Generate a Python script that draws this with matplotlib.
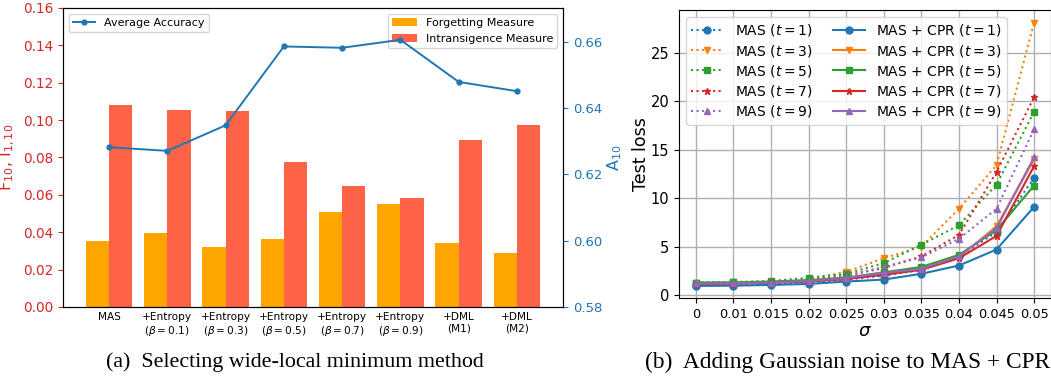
import numpy as np
import matplotlib
matplotlib.use('Agg')
import matplotlib.pyplot as plt

# left panel data
methods = ['MAS', '+Entropy\n($\\beta = 0.1$)', '+Entropy\n($\\beta = 0.3$)', '+Entropy\n($\\beta = 0.5$)',
           '+Entropy\n($\\beta = 0.7$)', '+Entropy\n($\\beta = 0.9$)', '+DML\n(M1)', '+DML\n(M2)']
forgetting = [0.0353, 0.0396, 0.0321, 0.0364, 0.0508, 0.0551, 0.0344, 0.0290]
intransigence = [0.1081, 0.1056, 0.1049, 0.0776, 0.0647, 0.0583, 0.0893, 0.0974]
avg_accuracy = [0.6282, 0.6271, 0.6348, 0.6586, 0.6582, 0.6606, 0.6479, 0.6451]

# right panel data
sigmas = ['0', '0.01', '0.015', '0.02', '0.025', '0.03', '0.035', '0.04', '0.045', '0.05']
tasks = [1, 3, 5, 7, 9]
mas_loss = [
    [1.00, 1.02, 1.10, 1.30, 1.60, 2.00, 2.60, 4.00, 6.50, 12.1],
    [1.10, 1.15, 1.30, 1.60, 2.40, 3.80, 5.00, 8.90, 13.4, 28.1],
    [1.30, 1.35, 1.45, 1.80, 2.20, 3.30, 5.20, 7.20, 11.4, 18.9],
    [1.15, 1.20, 1.30, 1.55, 2.00, 2.80, 4.00, 6.20, 12.7, 20.4],
    [1.10, 1.15, 1.25, 1.50, 2.00, 2.90, 3.90, 5.80, 8.90, 17.1],
]
cpr_loss = [
    [0.95, 0.97, 1.05, 1.15, 1.40, 1.60, 2.20, 3.05, 4.70, 9.1],
    [1.20, 1.22, 1.30, 1.45, 1.70, 2.20, 2.70, 3.90, 7.10, 14.0],
    [1.30, 1.32, 1.40, 1.55, 1.80, 2.35, 2.90, 4.15, 6.70, 11.3],
    [1.15, 1.18, 1.28, 1.40, 1.65, 2.10, 2.60, 3.80, 6.10, 13.3],
    [1.20, 1.22, 1.30, 1.45, 1.75, 2.30, 2.70, 4.00, 6.90, 14.2],
]
markers = ['o', 'v', 's', '*', '^']
colors = ['tab:blue', 'tab:orange', 'tab:green', 'tab:red', 'tab:purple']

fig = plt.figure(figsize=(10.51, 3.77), dpi=100)

# (a) bars + accuracy line
ax1 = fig.add_axes([0.0599, 0.1857, 0.4758, 0.7931])
x = np.arange(len(methods))
w = 0.4
ax1.bar(x - w / 2, forgetting, w, color='orange', label='Forgetting Measure')
ax1.bar(x + w / 2, intransigence, w, color='tomato', label='Intransigence Measure')
ax1.set_ylim(0, 0.16)
ticks_l = np.arange(0, 0.161, 0.02)
ax1.set_yticks(ticks_l)
ax1.set_yticklabels(['%.2f' % v for v in ticks_l])
ax1.tick_params(axis='y', colors='tab:red', labelsize=9.8)
ax1.set_xticks(x)
ax1.set_xticklabels(methods, fontsize=7.6)
ax1.tick_params(axis='x', length=0)
ax1.set_ylabel('F$_{10}$, I$_{1,10}$', color='tab:red', fontsize=11.5, labelpad=4)
ax1.legend(loc='upper right', fontsize=8, handlelength=2.2)

ax2 = ax1.twinx()
ax2.plot(x, avg_accuracy, '-o', color='tab:blue', markersize=3.5, lw=1.4, label='Average Accuracy')
ax2.set_ylim(0.58, 0.6702)
ax2.set_yticks([0.58, 0.60, 0.62, 0.64, 0.66])
ax2.set_yticklabels(['0.58', '0.60', '0.62', '0.64', '0.66'])
ax2.tick_params(axis='y', colors='tab:blue', labelsize=9.5)
ax2.set_ylabel('A$_{10}$', color='tab:blue', fontsize=11.5, labelpad=2)
ax2.legend(loc='upper left', fontsize=8)
for a in (ax1, ax2):
    for s in a.spines.values():
        s.set_color('black')

# (b) gaussian noise
ax3 = fig.add_axes([0.646, 0.2095, 0.354, 0.764])
xs = np.arange(len(sigmas))
handles = []
for i, t in enumerate(tasks):
    h, = ax3.plot(xs, mas_loss[i], ':', marker=markers[i], color=colors[i], lw=1.5, markersize=5,
                  label='MAS ($t = %d$)' % t)
    handles.append(h)
for i, t in enumerate(tasks):
    h, = ax3.plot(xs, cpr_loss[i], '-', marker=markers[i], color=colors[i], lw=1.5, markersize=5,
                  label='MAS + CPR ($t = %d$)' % t)
    handles.append(h)
ax3.set_xticks(xs)
ax3.set_xticklabels(sigmas, fontsize=9.3)
ax3.tick_params(axis='y', labelsize=10.5)
ax3.set_xlim(-0.45, 9.45)
ax3.set_ylim(-0.3, 29.4)
ax3.set_yticks([0, 5, 10, 15, 20, 25])
ax3.grid(True, color='#b0b0b0', lw=1.0)
ax3.set_xlabel('$\\sigma$', fontsize=13, labelpad=1)
ax3.set_ylabel('Test loss', fontsize=12.5, labelpad=0)
ax3.legend(handles=handles, loc='upper left', ncol=2, fontsize=10, labelspacing=0.3,
           columnspacing=1.5, handlelength=2.3)

# captions
fig.text(0.281, 0.04, '(a)  Selecting wide-local minimum method', family='Liberation Serif',
         fontsize=15.8, ha='center', va='center')
fig.text(0.806, 0.04, '(b)  Adding Gaussian noise to MAS + CPR', family='Liberation Serif',
         fontsize=16.8, ha='center', va='center')

fig.savefig('out.png', dpi=100)
